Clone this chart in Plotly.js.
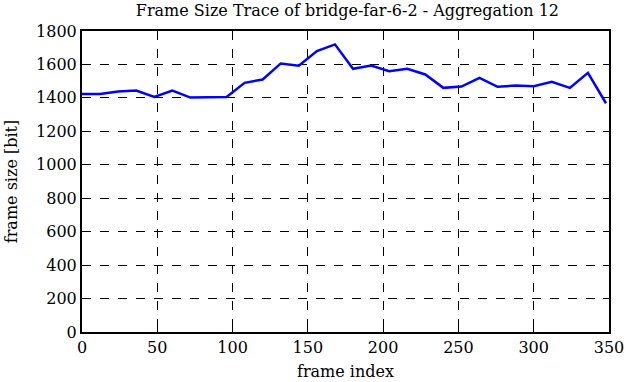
<!DOCTYPE html>
<html>
<head>
<meta charset="utf-8">
<script src="https://cdn.plot.ly/plotly-3.0.1.min.js"></script>
<style>html,body{margin:0;padding:0;background:#fff;}#chart{width:626px;height:382px;}</style>
</head>
<body>
<div id="chart"></div>
<script>
const frameIndex = [0,12,24,36,48,60,72,84,96,108,120,132,144,156,168,180,192,204,216,228,240,252,264,276,288,300,312,324,336,348];
const frameSize = [1424,1424,1438,1444,1406,1444,1402,1402,1406,1490,1510,1606,1592,1680,1720,1574,1594,1560,1574,1540,1460,1468,1520,1466,1474,1470,1496,1460,1550,1368];
const xTicks = [0,50,100,150,200,250,300,350];
const yTicks = [0,200,400,600,800,1000,1200,1400,1600,1800];

const font = {family: '"DejaVu Serif", "Liberation Serif", serif', size: 16, color: '#000'};
const axisCommon = {
  showline: true, linecolor: '#000', linewidth: 2, mirror: 'ticks',
  ticks: 'inside', ticklen: 6, tickwidth: 1, tickcolor: '#000',
  showgrid: true, gridcolor: '#000', griddash: 'dash', gridwidth: 1,
  zeroline: false, tickfont: font
};
Plotly.newPlot('chart', [{
  x: frameIndex, y: frameSize, type: 'scatter', mode: 'lines',
  line: {color: '#0000ff', width: 2.5}
}], {
  width: 626, height: 382,
  margin: {l: 82, r: 17, t: 31, b: 50},
  paper_bgcolor: '#fff', plot_bgcolor: '#fff',
  showlegend: false,
  title: {text: 'Frame Size Trace of bridge-far-6-2 - Aggregation 12', font: font, x: 0.555, xanchor: 'center', y: 0.972, yanchor: 'middle'},
  xaxis: Object.assign({}, axisCommon, {range: [0, 350], tickvals: xTicks, ticktext: xTicks.map(String),
    title: {text: 'frame index', font: font, standoff: 10}}),
  yaxis: Object.assign({}, axisCommon, {range: [0, 1800], tickvals: yTicks, ticktext: yTicks.map(String),
    title: {text: 'frame size [bit]', font: font, standoff: 14}})
}, {displayModeBar: false, staticPlot: true});
</script>
</body>
</html>
